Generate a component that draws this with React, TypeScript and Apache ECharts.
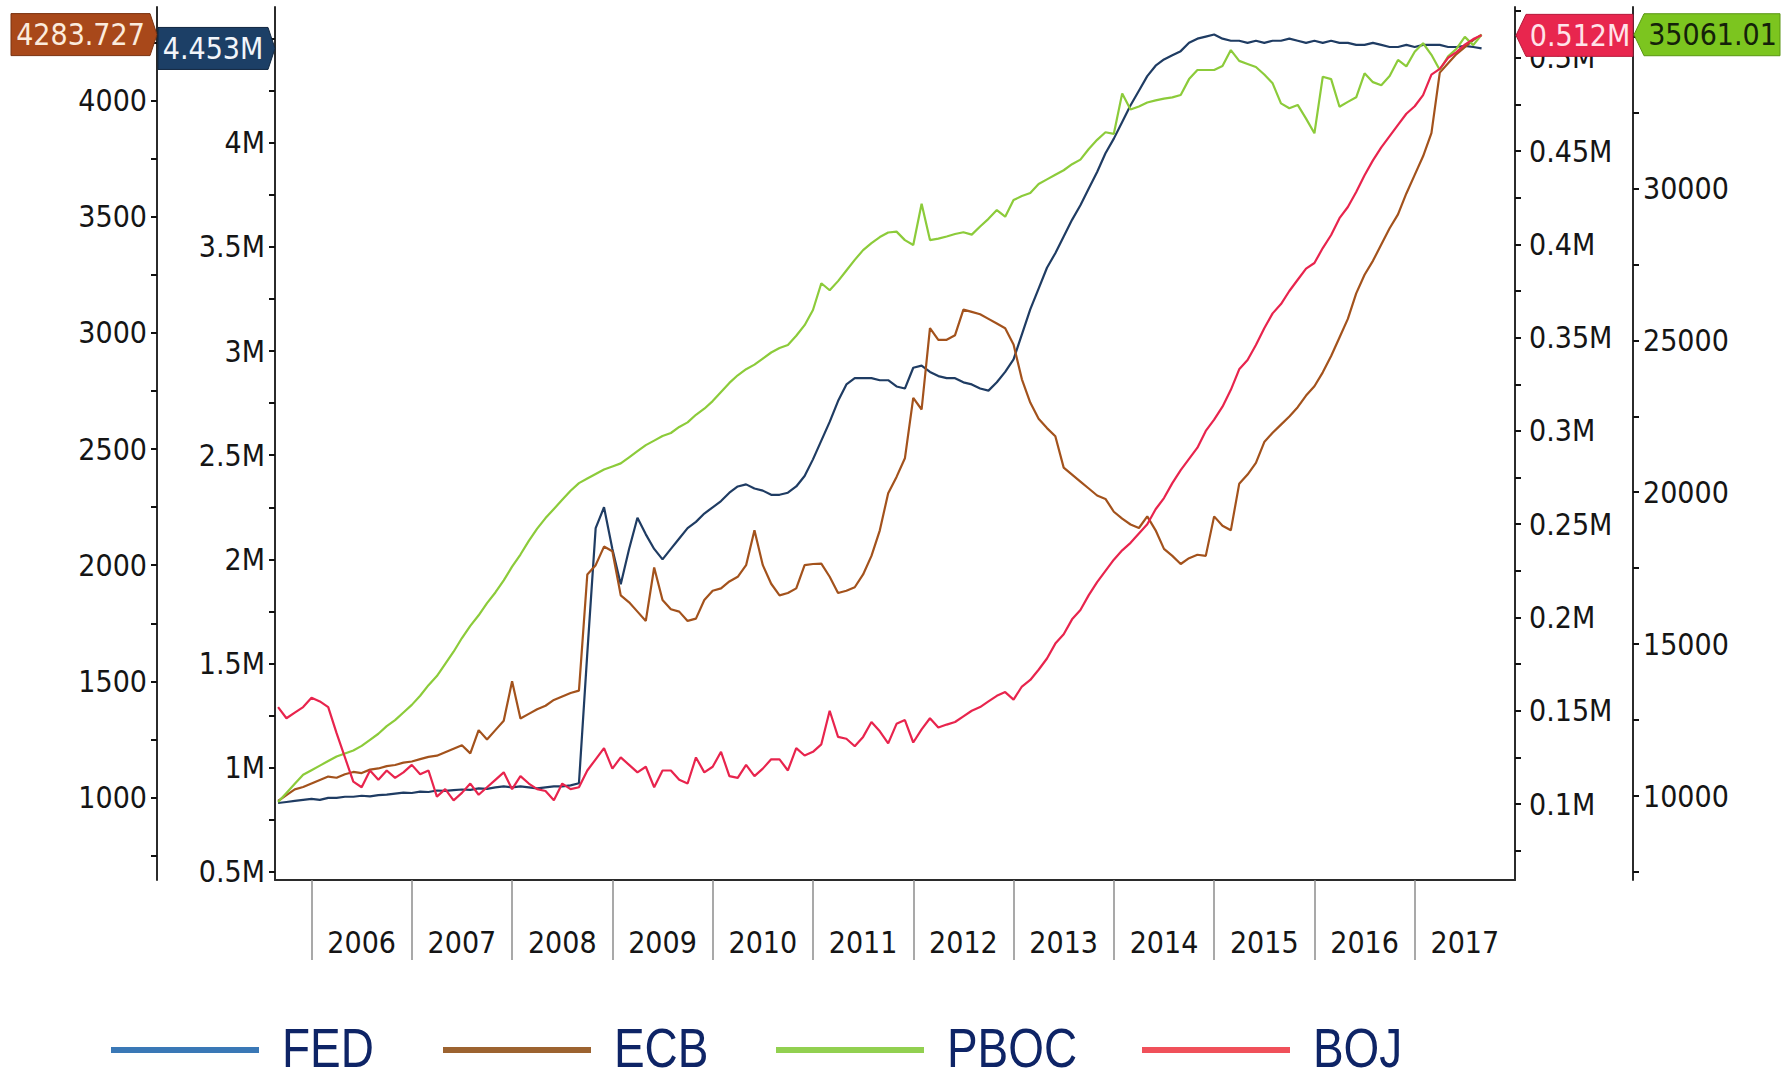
import React, { useEffect, useRef } from "react";
import * as echarts from "echarts";

// ---------- DATA (monthly, Sep 2005 .. Sep 2017) ----------
const FIRST_MONTH = "2005-09";
const MONTH_COUNT = 145;

const fedValues = [
  0.83, 0.835, 0.84, 0.845,
  0.85, 0.845, 0.855, 0.855, 0.86, 0.86, 0.865, 0.862, 0.868, 0.87, 0.875, 0.88,
  0.878, 0.885, 0.883, 0.89, 0.888, 0.892, 0.895, 0.893, 0.9, 0.898, 0.905, 0.91,
  0.905, 0.91, 0.905, 0.9, 0.905, 0.91, 0.91, 0.915, 0.925, 1.55, 2.15, 2.25,
  2.05, 1.88, 2.05, 2.2, 2.12, 2.05, 2.0, 2.05, 2.1, 2.15, 2.18, 2.22,
  2.25, 2.28, 2.32, 2.35, 2.36, 2.34, 2.33, 2.31, 2.31, 2.32, 2.35, 2.4,
  2.48, 2.57, 2.66, 2.76, 2.84, 2.87, 2.87, 2.87, 2.86, 2.86, 2.83, 2.82,
  2.92, 2.93, 2.9, 2.88, 2.87, 2.87, 2.85, 2.84, 2.82, 2.81, 2.85, 2.9,
  2.96, 3.08, 3.2, 3.3, 3.4, 3.47, 3.55, 3.63, 3.7, 3.78, 3.86, 3.95,
  4.02, 4.1, 4.18, 4.25, 4.32, 4.37, 4.4, 4.42, 4.44, 4.48, 4.5, 4.51,
  4.52, 4.5, 4.49, 4.49, 4.48, 4.49, 4.48, 4.49, 4.49, 4.5, 4.49, 4.48,
  4.49, 4.48, 4.49, 4.48, 4.48, 4.47, 4.47, 4.48, 4.47, 4.46, 4.46, 4.47,
  4.46, 4.47, 4.47, 4.47, 4.46, 4.46, 4.465, 4.46, 4.453,
];

const ecbValues = [
  985, 1010, 1035, 1045,
  1060, 1075, 1090, 1085, 1100, 1110, 1105, 1120, 1125, 1135, 1140, 1150,
  1155, 1165, 1175, 1180, 1195, 1210, 1225, 1190, 1290, 1250, 1290, 1330,
  1500, 1340, 1360, 1380, 1395, 1420, 1435, 1450, 1460, 1960, 2000, 2080,
  2060, 1870, 1840, 1800, 1760, 1990, 1850, 1810, 1800, 1760, 1770, 1850,
  1890, 1900, 1930, 1950, 2000, 2150, 2000, 1920, 1870, 1880, 1900, 2000,
  2005, 2007, 1950, 1880, 1890, 1905, 1960, 2040, 2150, 2310, 2380, 2460,
  2720, 2670, 3020, 2970, 2970, 2990, 3100, 3090, 3080, 3060, 3040, 3020,
  2950, 2800, 2700, 2630, 2590, 2555, 2420, 2390, 2360, 2330, 2300, 2285,
  2230, 2200, 2175, 2160, 2210, 2150, 2070, 2040, 2005, 2030, 2045, 2040,
  2210, 2170, 2150, 2350, 2390, 2440, 2530, 2570, 2605, 2640, 2680, 2730,
  2770, 2830, 2900, 2980, 3060, 3170, 3250, 3310, 3380, 3450, 3510, 3600,
  3680, 3760, 3860, 4120, 4160, 4200, 4230, 4260, 4283.727,
];

const pbocValues = [
  9800, 10100, 10400, 10700,
  10850, 11000, 11150, 11300, 11400, 11500, 11650, 11850, 12050, 12300, 12500, 12750,
  13000, 13300, 13650, 13950, 14350, 14750, 15200, 15600, 15950, 16350, 16700, 17100,
  17550, 17950, 18400, 18800, 19150, 19450, 19750, 20050, 20300, 20450, 20600, 20750,
  20850, 20950, 21150, 21350, 21550, 21700, 21850, 21950, 22150, 22300, 22550, 22750,
  23000, 23300, 23600, 23850, 24050, 24200, 24400, 24600, 24750, 24850, 25150, 25500,
  26000, 26880, 26650, 26950, 27300, 27650, 27970, 28200, 28400, 28550, 28580, 28300,
  28140, 29500, 28300, 28350, 28420, 28500, 28560, 28480, 28750, 29000, 29290, 29070,
  29620, 29750, 29850, 30150, 30300, 30450, 30600, 30800, 30950, 31300, 31600, 31850,
  31800, 33130, 32600, 32700, 32830, 32900, 32960, 33000, 33075, 33600, 33900, 33900,
  33900, 34030, 34556, 34200, 34100, 34000, 33750, 33460, 32800, 32640, 32750, 32300,
  31816, 33680, 33600, 32690, 32850, 33000, 33790, 33500, 33400, 33700, 34230, 34020,
  34500, 34780, 34400, 33900, 34350, 34600, 34990, 34720, 35061.01,
];

const bojValues = [
  0.152, 0.146, 0.149, 0.152,
  0.157, 0.155, 0.152, 0.138, 0.125, 0.112, 0.109, 0.118, 0.113, 0.118, 0.114, 0.117,
  0.121, 0.116, 0.118, 0.104, 0.108, 0.102, 0.106, 0.111, 0.105, 0.109, 0.113, 0.117,
  0.108, 0.115, 0.111, 0.108, 0.107, 0.102, 0.111, 0.108, 0.109, 0.118, 0.124, 0.13,
  0.119, 0.125, 0.121, 0.117, 0.12, 0.109, 0.118, 0.118, 0.113, 0.111, 0.125, 0.117,
  0.12, 0.128, 0.115, 0.114, 0.121, 0.115, 0.119, 0.124, 0.124, 0.118, 0.13, 0.126,
  0.128, 0.132, 0.15, 0.136, 0.135, 0.131, 0.136, 0.144, 0.139, 0.1325, 0.143, 0.145,
  0.133, 0.14, 0.146, 0.141, 0.1426, 0.144, 0.147, 0.15, 0.152, 0.155, 0.158, 0.16,
  0.156, 0.163, 0.1665, 0.172, 0.178, 0.186, 0.191, 0.199, 0.204, 0.212, 0.219, 0.225,
  0.231, 0.236, 0.24, 0.245, 0.25, 0.258, 0.264, 0.272, 0.279, 0.285, 0.291, 0.3,
  0.306, 0.313, 0.322, 0.333, 0.338, 0.346, 0.355, 0.363, 0.368, 0.375, 0.381, 0.387,
  0.39, 0.398, 0.405, 0.414, 0.42, 0.428, 0.437, 0.445, 0.452, 0.458, 0.464, 0.47,
  0.474, 0.48, 0.491, 0.494, 0.5, 0.503, 0.507, 0.51, 0.512,
];

// Tick labels
const yearTicks = [2006, 2007, 2008, 2009, 2010, 2011, 2012, 2013, 2014, 2015, 2016, 2017];
const yearLabelPos = [2006.5, 2007.5, 2008.5, 2009.5, 2010.5, 2011.5, 2012.5, 2013.5, 2014.5, 2015.5, 2016.5, 2017.5];
const fedLabels = [0.5, 1, 1.5, 2, 2.5, 3, 3.5, 4];
const fedTicks = [0.5, 0.75, 1, 1.25, 1.5, 1.75, 2, 2.25, 2.5, 2.75, 3, 3.25, 3.5, 3.75, 4, 4.25, 4.5];
const ecbLabels = [1000, 1500, 2000, 2500, 3000, 3500, 4000];
const ecbTicks = [750, 1000, 1250, 1500, 1750, 2000, 2250, 2500, 2750, 3000, 3250, 3500, 3750, 4000, 4250];
const bojLabels = [0.1, 0.15, 0.2, 0.25, 0.3, 0.35, 0.4, 0.45, 0.5];
const bojTicks = [0.075, 0.1, 0.125, 0.15, 0.175, 0.2, 0.225, 0.25, 0.275, 0.3, 0.325, 0.35, 0.375, 0.4, 0.425, 0.45, 0.475, 0.5, 0.525];
const pbocLabels = [10000, 15000, 20000, 25000, 30000];
const pbocTicks = [7500, 10000, 12500, 15000, 17500, 20000, 22500, 25000, 27500, 30000, 32500, 35000];

const seriesNames = ["FED", "ECB", "PBOC", "BOJ"];
const lineColors = ["#1F3C63", "#A3521C", "#8CCB3A", "#E8244D"];
const legendColors = ["#3A78B6", "#9C6330", "#92D050", "#F0505A"];

// ---------- LAYOUT ----------
const W = 1791;
const H = 1070;
const GRID_LEFT = 275;
const GRID_RIGHT = 276;
const GRID_TOP = 7;
const GRID_BOTTOM = 190;
const AXIS_OFFSET = 118;
const FONT = "'DejaVu Sans Condensed', 'DejaVu Sans', sans-serif";
const LEGEND_FONT = "'Liberation Sans', Arial, sans-serif";
const LEGEND_LINE_X = [111, 443, 776, 1142];
const LEGEND_LINE_Y = 1050;
const LEGEND_TEXT_Y = 1048;

function buildMonths(): number[] {
  const [y0, m0] = FIRST_MONTH.split("-").map(Number);
  const out: number[] = [];
  for (let i = 0; i < MONTH_COUNT; i++) {
    const total = (m0 - 1) + i;
    const y = y0 + Math.floor(total / 12);
    const m = total % 12;
    out.push(y + m / 12);
  }
  return out;
}

const labelBase = { fontFamily: FONT, fontSize: 30, color: "#151515" };

const yAxisDef = (extra: any, ticks: number[], labels: number[], fmt: (v: number) => string, margin: number) => ({
  type: "value",
  splitLine: { show: false },
  axisLine: { show: true, lineStyle: { color: "#2b2b2b", width: 2 } },
  axisTick: { show: true, length: 6, customValues: ticks, lineStyle: { color: "#111", width: 2 } },
  axisLabel: { ...labelBase, customValues: labels, formatter: fmt, margin },
  ...extra,
});

export default function App() {
  const ref = useRef<HTMLDivElement>(null);

  useEffect(() => {
    const chart = echarts.init(ref.current!, null, { renderer: "svg" });
    const t = buildMonths();
    const pair = (vals: number[]) => vals.map((v, i) => [t[i], v]);
    const fmtM = (v: number) => `${v}M`;
    const fmtN = (v: number) => String(v);

    const option: any = {
      animation: false,
      backgroundColor: "#ffffff",
      grid: { left: GRID_LEFT, right: GRID_RIGHT, top: GRID_TOP, bottom: GRID_BOTTOM },
      xAxis: {
        type: "value",
        min: 2005.636,
        max: 2018.0,
        splitLine: { show: false },
        axisLine: { show: true, onZero: false, lineStyle: { color: "#2b2b2b", width: 2 } },
        axisTick: { show: true, length: 80, customValues: yearTicks, lineStyle: { color: "#8c8c8c", width: 1.5 } },
        axisLabel: {
          ...labelBase,
          customValues: yearLabelPos,
          formatter: (v: number) => String(Math.floor(v)),
          margin: 47,
        },
      },
      yAxis: [
        yAxisDef({ position: "left", min: 0.4604, max: 4.652 }, fedTicks, fedLabels, fmtM, 10),
        yAxisDef({ position: "left", offset: AXIS_OFFSET, min: 644.9, max: 4402.5 }, ecbTicks, ecbLabels, fmtN, 10),
        yAxisDef({ position: "right", min: 0.0593, max: 0.5272 }, bojTicks, bojLabels, fmtM, 14),
        yAxisDef({ position: "right", offset: AXIS_OFFSET, min: 7235, max: 35974 }, pbocTicks, pbocLabels, fmtN, 10),
      ],
      series: [
        { name: "FED", type: "line", yAxisIndex: 0, data: pair(fedValues) },
        { name: "ECB", type: "line", yAxisIndex: 1, data: pair(ecbValues) },
        { name: "PBOC", type: "line", yAxisIndex: 3, data: pair(pbocValues) },
        { name: "BOJ", type: "line", yAxisIndex: 2, data: pair(bojValues) },
      ].map((s) => {
        const i = seriesNames.indexOf(s.name);
        return {
          ...s,
          showSymbol: false,
          symbol: "none",
          lineStyle: { color: lineColors[i], width: 2.2 },
          itemStyle: { color: lineColors[i] },
        };
      }),
    };

    chart.setOption(option);

    const last = (a: number[]) => a[a.length - 1];
    const yOf = (axis: number, v: number) => chart.convertToPixel({ yAxisIndex: axis } as any, v) as unknown as number;
    const plotRight = W - GRID_RIGHT;
    const tagH = 21;
    const tagText = (x: number, y: number, text: string, fill: string) => ({
      type: "text",
      z: 101,
      x,
      y,
      style: { text, fill, font: `30px ${FONT}`, align: "center", verticalAlign: "middle" },
    });
    const rightTag = (xTip: number, xEnd: number, y: number, fill: string, stroke: string) => ({
      type: "polygon",
      z: 100,
      shape: { points: [[xEnd, y - tagH], [xTip - 7, y - tagH], [xTip, y], [xTip - 7, y + tagH], [xEnd, y + tagH]] },
      style: { fill, stroke, lineWidth: 1 },
    });
    const leftTag = (xTip: number, xEnd: number, y: number, fill: string, stroke: string) => ({
      type: "polygon",
      z: 100,
      shape: { points: [[xTip, y], [xTip + 10, y - tagH], [xEnd, y - tagH], [xEnd, y + tagH], [xTip + 10, y + tagH]] },
      style: { fill, stroke, lineWidth: 1 },
    });

    const yEcb = yOf(1, last(ecbValues));
    const yFed = yOf(0, last(fedValues));
    const yBoj = yOf(2, last(bojValues));
    const yPboc = yOf(3, last(pbocValues));
    const ecbAxisX = GRID_LEFT - AXIS_OFFSET;
    const pbocAxisX = plotRight + AXIS_OFFSET;

    const legendItems = seriesNames.flatMap((name, i) => [
      {
        type: "rect",
        z: 50,
        shape: { x: LEGEND_LINE_X[i], y: LEGEND_LINE_Y - 3, width: 148, height: 6 },
        style: { fill: legendColors[i] },
      },
      {
        type: "text",
        z: 50,
        x: LEGEND_LINE_X[i] + 171,
        y: LEGEND_TEXT_Y,
        scaleX: 0.82,
        style: { text: name, fill: "#0E2466", font: `56px ${LEGEND_FONT}`, align: "left", verticalAlign: "middle" },
      },
    ]);

    chart.setOption({
      graphic: [
        rightTag(ecbAxisX, 11, yEcb, "#A8481A", "#7a3210"),
        tagText((11 + ecbAxisX - 7) / 2, yEcb, String(last(ecbValues)), "#FBEBDD"),
        rightTag(GRID_LEFT, ecbAxisX + 1, yFed, "#1C3F66", "#10263f"),
        tagText((ecbAxisX + GRID_LEFT - 6) / 2, yFed, `${last(fedValues)}M`, "#F2F5FA"),
        leftTag(plotRight + 1, pbocAxisX, yBoj, "#E8264E", "#b51a3a"),
        tagText((plotRight + 12 + pbocAxisX) / 2, yBoj, `${last(bojValues)}M`, "#FFE3E9"),
        leftTag(pbocAxisX + 1, 1780, yPboc, "#7CC51F", "#5a9612"),
        tagText((pbocAxisX + 12 + 1780) / 2, yPboc, String(last(pbocValues)), "#14210a"),
        ...legendItems,
      ],
    });

    return () => chart.dispose();
  }, []);

  return (
    <div
      ref={ref}
      style={{ position: "absolute", left: 0, top: 0, width: W, height: H, background: "#fff" }}
    />
  );
}
